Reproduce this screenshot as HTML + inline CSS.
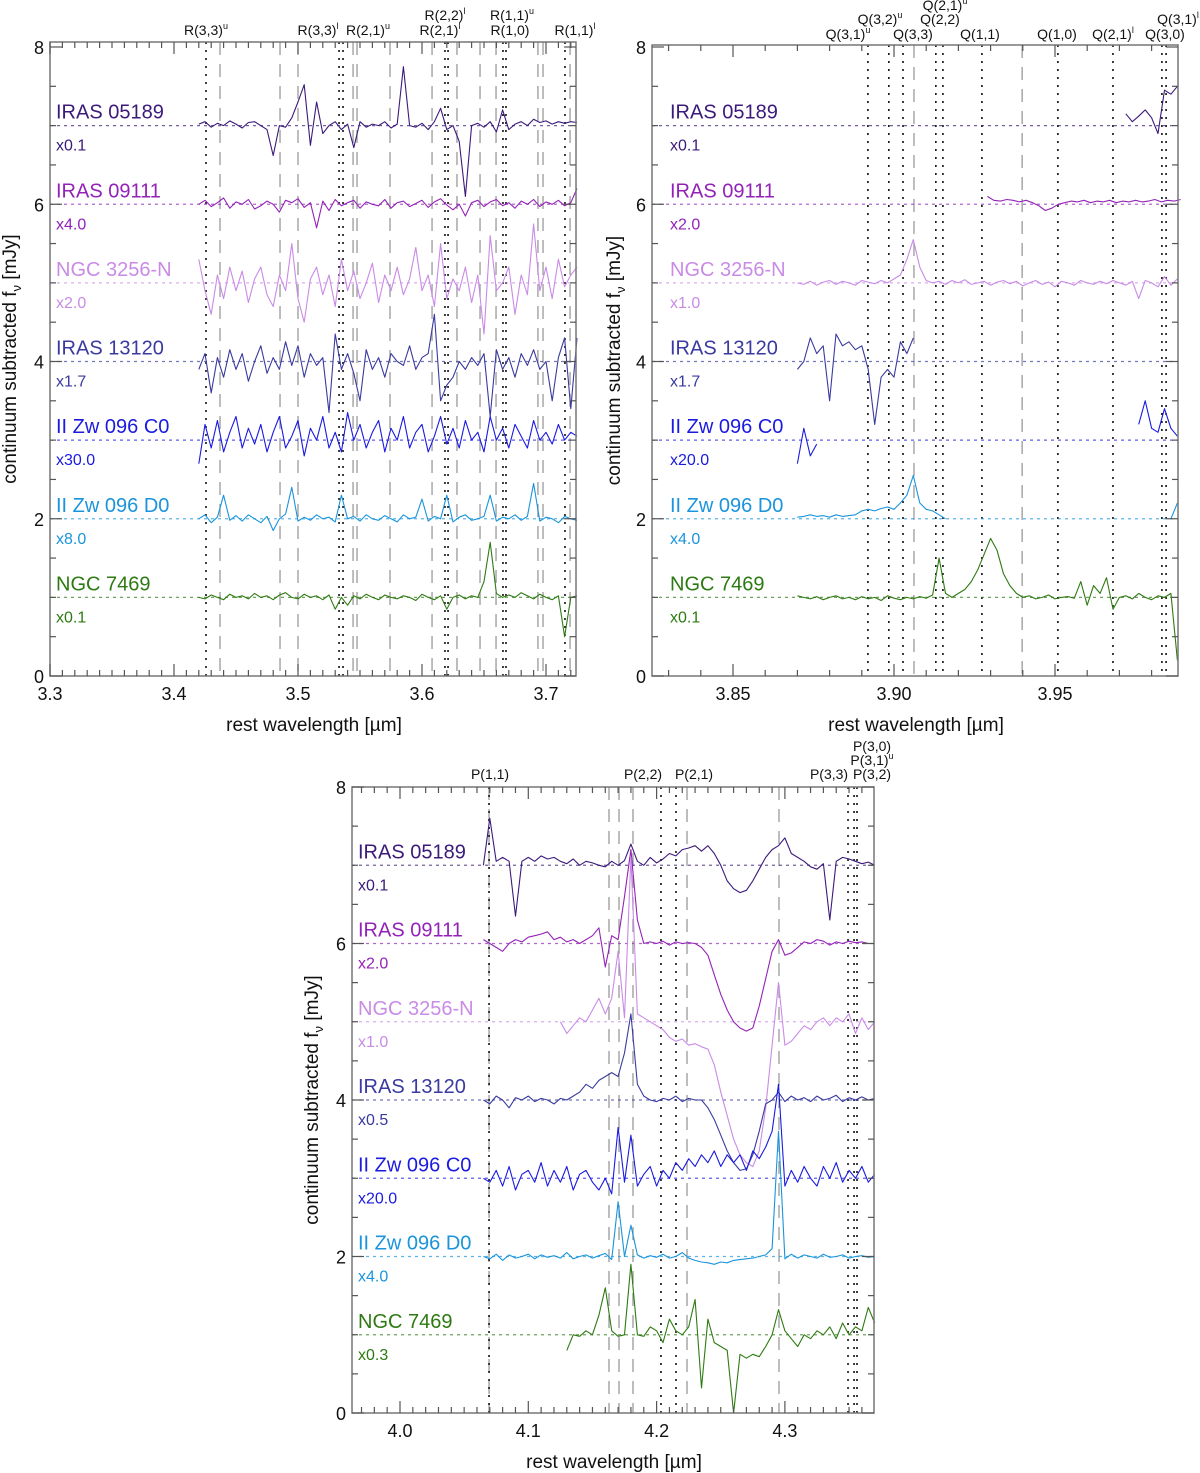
<!DOCTYPE html>
<html><head><meta charset="utf-8">
<style>
html,body{margin:0;padding:0;background:#fff;}
svg{display:block;font-family:"Liberation Sans",sans-serif;}
</style></head>
<body>
<svg id="chart" width="1200" height="1473" viewBox="0 0 1200 1473" xmlns="http://www.w3.org/2000/svg"></svg>
<script>
// ---------- DATA ----------
const seriesNames = ["IRAS 05189","IRAS 09111","NGC 3256-N","IRAS 13120","II Zw 096 C0","II Zw 096 D0","NGC 7469"];
const seriesColors = ["#3b1a7a","#9322b8","#c98be6","#3a3aa0","#1a1ae0","#1a94dc","#2e7a12"];
const baselines = [7,6,5,4,3,2,1];
const scalesP1 = ["x0.1","x4.0","x2.0","x1.7","x30.0","x8.0","x0.1"];
const scalesP2 = ["x0.1","x2.0","x1.0","x1.7","x20.0","x4.0","x0.1"];
const scalesP3 = ["x0.1","x2.0","x1.0","x0.5","x20.0","x4.0","x0.3"];

const p1Ticks = [3.3,3.4,3.5,3.6,3.7];
const p2Ticks = [3.85,3.90,3.95];
const p3Ticks = [4.0,4.1,4.2,4.3];
const yTicks = [0,2,4,6,8];

// line markers (wavelengths)
const p1Dotted = [3.4258,3.5331,3.5363,3.6185,3.6210,3.6653,3.6677,3.7153];
const p1Dashed = [3.4371,3.4855,3.5000,3.5444,3.5476,3.5742,3.6081,3.6282,3.6468,3.6597,3.6935,3.6976,3.7194];
const p2Dotted = [3.8919,3.8984,3.9028,3.9130,3.9152,3.9273,3.9509,3.9680,3.9832,3.9845];
const p2Dashed = [3.9062,3.9398];
const p3Dotted = [4.0694,4.2034,4.2151,4.3492,4.3539,4.3562];
const p3Dashed = [4.0694,4.1629,4.1707,4.1816,4.2237,4.2954];

// Panel 1 spectra: start 3.420, step 0.005
const p1_05189 = [7.02,7.05,6.98,7.03,7.0,7.06,7.02,6.97,7.04,7.05,7.0,6.95,6.62,7.0,6.98,7.1,7.3,7.52,6.75,7.3,6.9,7.0,7.05,6.95,7.02,6.72,7.05,6.98,7.02,7.0,7.05,6.97,7.02,7.75,7.0,6.98,7.03,6.95,7.05,7.22,6.95,7.0,6.8,6.1,7.0,7.03,6.98,7.05,6.92,7.2,6.95,7.02,7.05,7.0,7.08,7.04,7.06,7.02,7.05,7.03,7.05,7.04];
const p1_09111 = [6.0,6.05,5.97,6.02,6.08,5.95,6.03,6.0,6.06,5.94,5.98,6.04,6.0,5.9,6.05,6.02,6.07,5.96,6.02,5.7,6.04,5.92,6.06,5.98,6.02,6.05,5.95,6.03,6.0,5.98,6.06,5.95,6.02,6.04,5.97,6.01,6.05,5.96,6.03,6.07,5.99,5.93,6.0,5.85,6.02,6.05,5.97,6.03,6.06,5.98,6.02,5.95,6.04,6.0,6.06,5.97,6.03,6.0,6.05,5.98,6.02,6.2];
const p1_3256 = [5.3,4.9,4.6,5.1,4.8,5.2,4.9,5.15,4.75,5.05,5.2,4.85,4.7,5.1,4.9,5.5,4.8,4.5,5.05,5.2,4.85,5.1,4.7,5.3,4.9,5.15,4.8,5.0,5.25,4.75,5.1,4.9,5.2,4.85,5.05,5.45,4.9,5.1,4.7,5.5,4.8,5.05,4.9,5.2,4.75,5.1,4.35,5.6,4.9,5.0,5.2,4.6,5.1,4.85,5.75,4.9,5.2,4.8,5.3,4.95,5.1,5.2];
const p1_13120 = [3.9,4.1,3.6,4.05,3.8,4.15,3.9,4.1,3.75,4.0,4.2,3.85,4.05,3.9,4.25,3.95,4.2,3.8,4.1,3.95,4.05,3.35,4.35,3.9,4.1,3.85,3.5,4.15,3.9,4.05,3.8,4.1,4.0,3.95,4.2,3.9,4.05,4.1,4.6,3.5,3.7,3.8,4.0,3.9,4.05,3.95,4.1,3.3,4.15,3.9,4.05,3.8,4.1,3.95,4.15,3.9,4.0,3.5,4.05,4.3,3.4,4.3];
const p1_C0 = [2.7,3.2,2.9,3.25,2.85,3.1,3.3,2.9,3.15,2.95,3.2,2.85,3.1,3.3,2.9,3.05,3.25,2.8,3.15,3.0,3.3,2.9,3.1,2.85,3.35,3.0,3.2,2.9,3.1,3.25,2.85,3.15,3.0,3.3,2.9,3.1,3.2,2.85,3.05,3.3,2.95,3.15,2.9,3.25,3.0,3.1,2.85,3.3,3.0,3.15,2.9,3.2,3.05,2.9,3.25,3.0,3.1,2.95,3.2,3.0,3.1,3.05];
const p1_D0 = [2.0,2.05,1.95,2.02,2.3,1.98,2.04,1.97,2.05,2.0,1.95,2.03,1.85,2.0,2.06,2.4,1.97,2.02,1.98,2.05,2.0,2.02,1.96,2.3,2.0,2.03,1.97,2.05,2.0,1.98,2.04,2.0,1.96,2.05,2.0,2.02,2.25,1.97,2.03,2.0,2.3,1.96,2.02,2.05,1.98,2.0,2.03,2.3,1.97,2.02,2.0,2.05,1.98,2.03,2.45,1.97,2.02,2.0,1.95,2.03,2.0,1.98];
const p1_7469 = [1.0,0.98,1.03,1.0,0.97,1.04,1.0,1.02,0.98,1.05,1.0,1.02,0.97,1.03,1.06,1.0,0.98,1.04,1.0,1.02,0.97,1.03,0.85,1.0,0.9,1.02,0.98,1.04,1.0,0.97,1.03,1.0,0.98,1.02,1.0,0.96,1.04,1.0,0.97,1.02,0.85,1.0,1.03,0.98,1.02,1.0,1.2,1.7,1.05,1.0,1.03,1.0,1.06,1.02,0.98,1.04,1.0,0.97,1.02,0.5,1.0,1.02];

// Panel 2 spectra: step 0.002
const p2_05189 = [7.15,7.05,7.12,7.2,7.1,6.9,7.45,7.4,7.5];
const p2_09111 = [6.1,6.05,6.04,6.06,6.05,6.03,6.05,6.02,5.98,5.92,5.95,6.0,6.02,6.04,6.03,6.05,6.02,6.04,6.03,6.05,6.02,6.04,6.03,6.05,6.03,6.04,6.06,6.03,6.05,6.04,6.06];
const p2_3256 = [5.0,4.98,5.02,4.97,5.01,5.03,4.98,5.02,5.0,4.97,5.03,5.01,4.99,5.03,5.0,5.05,5.1,5.3,5.55,5.2,5.03,5.0,5.02,4.98,5.03,5.0,5.04,4.98,5.0,5.02,4.97,5.01,5.03,4.99,5.02,4.96,5.0,5.03,4.98,5.01,4.95,5.02,5.0,4.97,5.03,5.0,4.98,5.02,4.99,5.03,5.0,4.97,5.02,4.8,5.03,5.0,4.95,5.08,4.97,5.05];
const p2_13120 = [3.9,4.0,4.3,4.1,4.2,3.5,4.35,4.2,4.25,4.15,4.2,3.9,3.2,3.8,3.9,3.8,4.25,4.1,4.3];
const p2_C0a = [2.7,3.15,2.8,2.95];
const p2_C0b = [3.2,3.5,3.15,3.1,3.4,3.15,3.05];
const p2_D0a = [2.02,2.03,2.05,2.03,2.04,2.02,2.05,2.03,2.04,2.05,2.1,2.12,2.1,2.13,2.15,2.12,2.2,2.3,2.55,2.2,2.12,2.1,2.05,2.0];
const p2_D0b = [2.0,2.2];
const p2_7469 = [1.02,1.0,0.98,1.01,0.97,1.0,1.02,0.98,1.0,0.97,1.01,0.98,1.0,0.96,1.02,0.99,0.97,1.0,0.98,1.01,0.99,1.03,1.5,1.05,1.0,1.05,1.1,1.2,1.35,1.55,1.75,1.6,1.3,1.15,1.05,1.0,1.02,0.98,1.0,1.03,0.98,1.0,1.01,0.99,1.2,0.9,1.15,1.05,1.25,0.85,1.0,1.02,0.98,1.05,1.0,0.97,1.02,1.0,1.05,0.2];

// Panel 3 spectra: step 0.005
const p3_05189 = [7.0,7.6,7.05,7.1,7.05,6.35,7.05,7.1,7.05,7.12,7.08,7.1,7.05,7.02,7.08,7.0,7.05,7.03,7.0,6.98,7.05,7.0,7.06,7.27,7.05,7.0,7.1,7.03,7.08,7.15,7.12,7.2,7.22,7.25,7.18,7.25,7.15,7.0,6.8,6.7,6.65,6.68,6.8,6.95,7.1,7.2,7.25,7.35,7.15,7.1,7.05,6.98,6.95,7.02,6.3,7.05,7.1,7.08,7.05,7.02,7.04,7.0];
const p3_09111 = [6.05,6.0,5.95,5.9,6.0,6.05,6.02,6.08,6.1,6.12,6.15,6.05,6.08,6.02,6.05,6.0,6.05,6.1,6.2,5.7,6.1,6.05,6.6,7.2,6.3,6.0,6.02,6.0,6.03,5.98,6.02,6.0,6.01,6.0,5.95,5.85,5.6,5.35,5.15,5.0,4.92,4.88,4.92,5.2,5.55,5.9,6.05,5.85,5.88,5.95,6.02,6.0,6.05,6.03,5.98,6.02,6.0,6.03,6.01,6.02,6.0,6.0];
const p3_3256 = [5.0,4.85,4.95,5.05,5.0,5.15,5.3,5.1,5.3,5.9,5.05,7.1,5.1,5.05,5.0,4.95,4.9,4.8,4.75,4.78,4.7,4.72,4.68,4.65,4.45,4.1,3.8,3.5,3.3,3.2,3.15,3.35,3.9,4.7,5.5,4.7,4.75,4.85,4.95,4.9,5.0,5.05,4.95,5.05,5.0,5.1,4.85,5.05,4.9,5.0];
const p3_13120 = [4.0,3.95,4.05,4.0,3.9,4.03,4.0,4.05,3.98,4.02,4.0,3.95,4.02,4.0,4.05,4.1,4.2,4.15,4.25,4.3,4.35,4.3,4.6,5.1,4.2,4.05,4.0,3.98,4.02,4.0,4.05,3.98,4.02,4.0,4.0,3.9,3.75,3.55,3.35,3.2,3.1,3.12,3.3,3.6,3.95,4.0,4.1,3.98,4.05,4.0,4.03,3.98,4.05,4.0,4.02,4.06,3.98,4.03,4.0,4.04,4.0,4.02];
const p3_C0 = [3.0,2.95,3.1,2.9,3.15,2.85,3.05,3.1,2.95,3.2,2.9,3.1,2.95,3.15,2.85,3.05,3.1,2.95,2.85,3.0,2.8,3.65,2.95,3.55,2.9,3.05,3.15,2.9,3.1,3.0,3.2,3.1,3.25,3.15,3.3,3.2,3.35,3.15,3.3,3.2,3.3,3.1,3.35,3.25,3.4,3.6,4.2,2.9,3.1,2.95,3.15,3.0,2.9,3.15,3.0,3.2,2.95,3.1,3.0,3.15,2.95,3.05];
const p3_D0 = [2.0,1.97,2.03,1.95,2.02,1.98,2.0,2.03,1.97,2.02,1.99,2.01,1.98,2.05,1.97,2.0,2.02,1.98,2.01,2.04,1.96,2.7,2.0,2.4,2.02,1.98,2.01,1.99,2.03,1.98,2.0,2.05,1.98,1.95,1.93,1.92,1.9,1.93,1.92,1.95,1.96,1.97,1.98,2.0,2.02,2.1,3.6,1.97,2.03,1.98,2.02,2.0,1.98,2.03,1.99,2.0,2.02,1.98,2.0,2.01,1.99,2.0];
const p3_7469 = [0.8,1.0,0.98,1.05,1.0,1.25,1.6,1.05,0.98,1.0,1.9,1.0,0.98,1.1,1.05,0.9,1.2,1.05,1.0,1.1,1.45,0.32,1.2,0.9,0.85,0.8,0.0,0.75,0.7,0.75,0.72,0.85,1.0,1.32,1.05,0.95,0.85,1.0,0.95,1.05,1.0,1.1,0.95,1.15,1.0,1.1,1.05,1.35,1.15];

// ---------- DRAWING ----------
const NS = "http://www.w3.org/2000/svg";
const svg = document.getElementById("chart");
function mk(tag, attrs, parent) {
  const e = document.createElementNS(NS, tag);
  for (const k in attrs) e.setAttribute(k, attrs[k]);
  (parent || svg).appendChild(e);
  return e;
}

const panels = [
  {id:"panel-1", left:50, right:576, top:42, y0:676, y8:47, w0:3.3, ppu:1240, ticks:p1Ticks, minor:0.01, dec:1,
   dotted:p1Dotted, dashed:p1Dashed, labelX:56, scales:scalesP1, titleX:314, titleY:731, yTitleX:16,
   series:[
     {s:0,start:3.420,step:0.005,v:p1_05189},{s:1,start:3.420,step:0.005,v:p1_09111},{s:2,start:3.420,step:0.005,v:p1_3256},
     {s:3,start:3.420,step:0.005,v:p1_13120},{s:4,start:3.420,step:0.005,v:p1_C0},{s:5,start:3.420,step:0.005,v:p1_D0},
     {s:6,start:3.420,step:0.005,v:p1_7469}]},
  {id:"panel-2", left:652, right:1178, top:45, y0:676, y8:47, w0:3.85, ppu:3220, x0px:733, ticks:p2Ticks, minor:0.01, dec:2,
   dotted:p2Dotted, dashed:p2Dashed, labelX:670, scales:scalesP2, titleX:916, titleY:731, yTitleX:620,
   series:[
     {s:0,start:3.972,step:0.002,v:p2_05189},{s:1,start:3.929,step:0.002,v:p2_09111},{s:2,start:3.870,step:0.002,v:p2_3256},
     {s:3,start:3.870,step:0.002,v:p2_13120},{s:4,start:3.870,step:0.002,v:p2_C0a},{s:4,start:3.976,step:0.002,v:p2_C0b},
     {s:5,start:3.870,step:0.002,v:p2_D0a},{s:5,start:3.986,step:0.002,v:p2_D0b},{s:6,start:3.870,step:0.002,v:p2_7469}]},
  {id:"panel-3", left:352, right:874, top:787, y0:1413, y8:787, w0:4.0, ppu:1283, x0px:400, ticks:p3Ticks, minor:0.01, dec:1,
   dotted:p3Dotted, dashed:p3Dashed, labelX:358, scales:scalesP3, titleX:614, titleY:1468, yTitleX:318,
   series:[
     {s:0,start:4.065,step:0.005,v:p3_05189},{s:1,start:4.065,step:0.005,v:p3_09111},{s:2,start:4.125,step:0.005,v:p3_3256},
     {s:3,start:4.065,step:0.005,v:p3_13120},{s:4,start:4.065,step:0.005,v:p3_C0},{s:5,start:4.065,step:0.005,v:p3_D0},
     {s:6,start:4.130,step:0.005,v:p3_7469}]}
];

panels.forEach(p => {
  const x0px = p.x0px !== undefined ? p.x0px : p.left;
  const X = w => x0px + (w - p.w0) * p.ppu;
  const Y = v => p.y0 - v * (p.y0 - p.y8) / 8;
  const g = mk("g", {});
  
  
  const bottom = p.y0;
  p.dashed.forEach(w => {
    const l = mk("line", {x1:X(w), x2:X(w), y1:p.top, y2:bottom, stroke:"#9a9a9a", "stroke-width":1.3, "stroke-dasharray":"13,9"}, g);
    
    
  });
  p.dotted.forEach(w => {
    const l = mk("line", {x1:X(w), x2:X(w), y1:p.top, y2:bottom, stroke:"#111", "stroke-width":1.6, "stroke-dasharray":"2,6"}, g);
    
    
  });
  baselines.forEach((b, i) => {
    const bl = mk("line", {x1:p.left, x2:p.right, y1:Y(b), y2:Y(b), stroke:seriesColors[i], "stroke-opacity":0.7, "stroke-width":1.2, "stroke-dasharray":"3,4"}, g);
    
    
    const t = mk("text", {x:p.labelX, y:Y(b) - 7, fill:seriesColors[i], "font-size":20}, g);
    t.textContent = seriesNames[i];
    
    
    const s = mk("text", {x:p.labelX, y:Y(b) + 25, fill:seriesColors[i], "font-size":16}, g);
    s.textContent = p.scales[i];
    
    
  });
  p.series.forEach(sr => {
    const pts = sr.v.map((v, k) => X(sr.start + k * sr.step).toFixed(1) + "," + Y(v).toFixed(1)).join(" ");
    const pl = mk("polyline", {points:pts, fill:"none", stroke:seriesColors[sr.s], "stroke-width":1.1, "stroke-linejoin":"round"}, g);
    
    
  });
  const fr = mk("rect", {x:p.left, y:p.top, width:p.right - p.left, height:bottom - p.top, fill:"none", stroke:"#777", "stroke-width":1.5}, g);
  
  
  const wmin = p.w0 + (p.left - x0px) / p.ppu, wmax = p.w0 + (p.right - x0px) / p.ppu;
  for (let k = Math.ceil(wmin / p.minor); k * p.minor <= wmax; k++) {
    const xx = X(k * p.minor);
    const major = p.ticks.some(t => Math.abs(t - k * p.minor) < 1e-6);
    const len = major ? 12 : 6;
    mk("line", {x1:xx, x2:xx, y1:bottom, y2:bottom - len, stroke:"#555", "stroke-width":1.2}, g);
    mk("line", {x1:xx, x2:xx, y1:p.top, y2:p.top + len, stroke:"#555", "stroke-width":1.2}, g);
  }
  p.ticks.forEach(t => {
    const tl = mk("text", {x:X(t), y:bottom + 24, "text-anchor":"middle", "font-size":18, fill:"#111"}, g);
    tl.textContent = t.toFixed(p.dec === 2 ? 2 : 1);
    
    
  });
  for (let v = 0; v <= 8; v += 0.5) {
    const len = (v % 2 === 0) ? 12 : 6;
    mk("line", {x1:p.left, x2:p.left + len, y1:Y(v), y2:Y(v), stroke:"#555", "stroke-width":1.2}, g);
    mk("line", {x1:p.right, x2:p.right - len, y1:Y(v), y2:Y(v), stroke:"#555", "stroke-width":1.2}, g);
  }
  yTicks.forEach(v => {
    const tl = mk("text", {x:p.left - 6, y:Y(v) + 7, "text-anchor":"end", "font-size":18, fill:"#111"}, g);
    tl.textContent = v;
    
    
  });
  const xt = mk("text", {x:p.titleX, y:p.titleY, "text-anchor":"middle", "font-size":19, fill:"#111"}, g);
  xt.textContent = "rest wavelength [µm]";
  
  
  const cy = (p.top + bottom) / 2;
  const yt = mk("text", {x:p.yTitleX, y:cy, "text-anchor":"middle", "font-size":19, fill:"#111", transform:"rotate(-90 " + p.yTitleX + " " + cy + ")"}, g);
  yt.innerHTML = 'continuum subtracted f<tspan font-size="13" dy="5">ν</tspan><tspan dy="-5"> [mJy]</tspan>';
  
  
});

const lineLabels = [
  [206,35,"R(3,3)","u"],[318,35,"R(3,3)","l"],[368,35,"R(2,1)","u"],[445,20,"R(2,2)","l"],[440,35,"R(2,1)","l"],
  [512,20,"R(1,1)","u"],[510,35,"R(1,0)",""],[575,35,"R(1,1)","l"],
  [848,39,"Q(3,1)","u"],[880,24,"Q(3,2)","u"],[913,39,"Q(3,3)",""],[945,10,"Q(2,1)","u"],[940,24,"Q(2,2)",""],
  [980,39,"Q(1,1)",""],[1057,39,"Q(1,0)",""],[1113,39,"Q(2,1)","l"],[1178,24,"Q(3,1)","l"],[1165,39,"Q(3,0)",""],
  [490,779,"P(1,1)",""],[643,779,"P(2,2)",""],[694,779,"P(2,1)",""],[829,779,"P(3,3)",""],
  [872,751,"P(3,0)",""],[872,765,"P(3,1)","u"],[872,779,"P(3,2)",""]
];
lineLabels.forEach(l => {
  const t = mk("text", {x:l[0], y:l[1], "text-anchor":"middle", "font-size":14, fill:"#111"});
  t.innerHTML = l[2] + (l[3] ? '<tspan font-size="9" dy="-6">' + l[3] + '</tspan>' : '');
  
  
});
</script>
</body></html>
